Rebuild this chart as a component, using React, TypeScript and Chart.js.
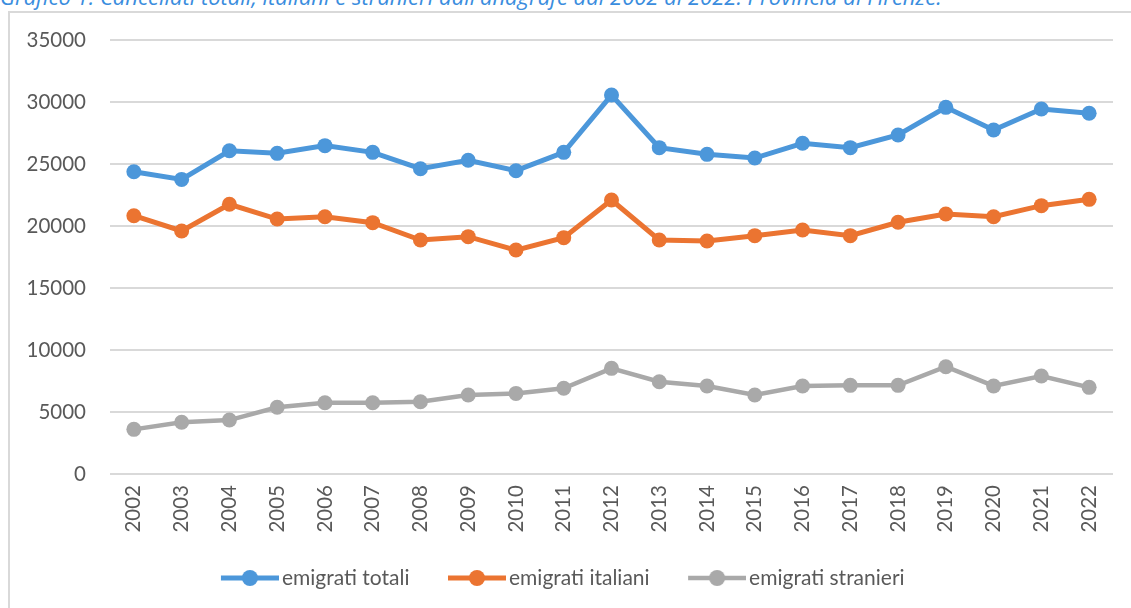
import React, { useEffect, useRef } from "react";
import { Chart, registerables } from "chart.js";

Chart.register(...registerables);

const years = ["2002","2003","2004","2005","2006","2007","2008","2009","2010","2011","2012","2013","2014","2015","2016","2017","2018","2019","2020","2021","2022"];
const totali = [24380, 23760, 26070, 25860, 26480, 25940, 24620, 25300, 24460, 25940, 30560, 26320, 25780, 25480, 26670, 26320, 27340, 29570, 27740, 29440, 29090];
const italiani = [20830, 19600, 21750, 20560, 20750, 20270, 18870, 19140, 18060, 19060, 22100, 18870, 18790, 19220, 19680, 19220, 20300, 20970, 20750, 21640, 22150];
const stranieri = [3600, 4170, 4350, 5380, 5750, 5750, 5830, 6370, 6500, 6910, 8520, 7440, 7100, 6370, 7100, 7150, 7150, 8650, 7100, 7900, 6990];
const seriesNames = ["emigrati totali", "emigrati italiani", "emigrati stranieri"];
const colors = ["#4C97DA", "#EB7431", "#A9A9A9"];
const yTicks = [0, 5000, 10000, 15000, 20000, 25000, 30000, 35000];
const titleText = "Grafico 1. Cancellati totali, italiani e stranieri dall'anagrafe dal 2002 al 2022. Provincia di Firenze.";

const LEFT_MARGIN = 36;
const LINE_LEN = 58;

function legendImage(color: string, lw: number) {
  const c = document.createElement("canvas");
  c.width = LINE_LEN + LEFT_MARGIN;
  c.height = 18;
  const ctx = c.getContext("2d")!;
  ctx.strokeStyle = color;
  ctx.lineWidth = lw;
  ctx.beginPath();
  ctx.moveTo(LEFT_MARGIN, 9);
  ctx.lineTo(LEFT_MARGIN + LINE_LEN, 9);
  ctx.stroke();
  ctx.fillStyle = color;
  ctx.beginPath();
  ctx.arc(LEFT_MARGIN + LINE_LEN / 2, 9, 8, 0, Math.PI * 2);
  ctx.fill();
  return c;
}

const legendShift = {
  id: "legendShift",
  afterLayout(chart: any) {
    const lg = chart.legend;
    if (lg) {
      lg.left -= 18;
      lg.right -= 18;
    }
  },
};

export default function App() {
  const ref = useRef<HTMLCanvasElement>(null);
  useEffect(() => {
    const font = "Lato, sans-serif";
    const data = [totali, italiani, stranieri];
    const widths = [5, 5, 4.5];
    const imgs = colors.map((c, i) => legendImage(c, widths[i]));
    const chart = new Chart(ref.current!, {
      type: "line",
      data: {
        labels: years,
        datasets: data.map((d, i) => ({
          label: seriesNames[i],
          data: d,
          borderColor: colors[i],
          backgroundColor: colors[i],
          borderWidth: widths[i],
          pointRadius: 7.5,
          pointBackgroundColor: colors[i],
          pointBorderWidth: 0,
          tension: 0,
        })),
      },
      plugins: [legendShift],
      options: {
        animation: false,
        responsive: false,
        layout: { padding: { left: 20, right: 18, top: 40, bottom: 9.5 } },
        scales: {
          x: {
            offset: true,
            grid: { display: false, drawTicks: false },
            border: { display: false },
            ticks: {
              color: "#595959",
              font: { family: font, size: 20.5 },
              minRotation: 90,
              maxRotation: 90,
              padding: 11,
            },
            afterFit: (s: any) => { s.height = 83.5; },
          },
          y: {
            min: 0,
            max: 35000,
            grid: { color: "#D9D9D9", lineWidth: 2, drawTicks: false },
            border: { display: false },
            afterBuildTicks: (s: any) => { s.ticks = yTicks.map((v) => ({ value: v })); },
            ticks: {
              color: "#595959",
              font: { family: font, size: 20.5 },
              padding: 24,
              callback: (v: any) => String(v),
            },
            afterFit: (s: any) => { s.width = 90; },
          },
        },
        plugins: {
          tooltip: { enabled: false },
          legend: {
            position: "bottom",
            labels: {
              usePointStyle: true,
              pointStyleWidth: 79,
              padding: 10,
              color: "#595959",
              font: { family: font, size: 21 },
              generateLabels: (ch: any) =>
                ch.data.datasets.map((ds: any, i: number) => ({
                  text: ds.label,
                  fillStyle: colors[i],
                  strokeStyle: colors[i],
                  lineWidth: 0,
                  pointStyle: imgs[i],
                  fontColor: "#595959",
                  hidden: false,
                  datasetIndex: i,
                })),
            },
          },
        },
      },
    });
    return () => chart.destroy();
  }, []);
  return (
    <div style={{ position: "absolute", left: 0, top: 0, width: 1131, height: 608, overflow: "hidden", background: "#fff" }}>
      <div style={{ position: "absolute", left: 8, top: 11, width: 1140, height: 620, border: "2px solid #D9D9D9" }} />
      <div style={{ position: "absolute", left: 0, top: -15, whiteSpace: "nowrap", fontFamily: "'Open Sans', sans-serif", fontStyle: "italic", fontSize: 22, lineHeight: "22px", color: "#3A8DDE" }}>{titleText}</div>
      <canvas ref={ref} width={1131} height={608} style={{ position: "absolute", left: 0, top: 0, width: 1131, height: 608 }} />
    </div>
  );
}
